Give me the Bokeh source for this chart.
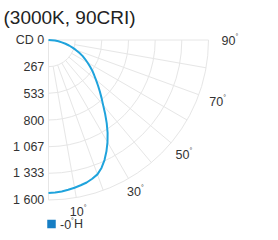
import numpy as np
from bokeh.plotting import figure
from bokeh.models import Range1d
from bokeh.core.properties import value
from bokeh.embed import file_html
from bokeh.resources import INLINE

# ---- data ----
title_text = "(3000K, 90CRI)"
angles_deg = [0, 2.5, 5, 7.5, 10, 12.5, 15, 17.5, 20, 22.5, 25, 27.5, 30, 32.5, 35, 37.5,
              40, 42.5, 45, 47.5, 50, 52.5, 55, 57.5, 60, 62.5, 65, 67.5, 70, 72.5, 75,
              77.5, 80, 82.5, 85, 87.5, 90]
candela = [1530, 1527, 1520, 1510, 1500, 1488, 1475, 1455, 1430, 1385, 1325, 1255, 1180,
           1100, 1015, 930, 850, 785, 725, 670, 620, 575, 535, 492, 450, 412, 375, 333,
           290, 252, 213, 174, 135, 100, 65, 32, 0]
radial_ticks = [0, 267, 533, 800, 1067, 1333, 1600]
radial_labels = ["CD 0", "267", "533", "800", "1 067", "1 333", "1 600"]
grid_angles = [0, 10, 20, 30, 40, 50, 60, 70, 80, 90]
angle_label_values = [10, 30, 50, 70, 90]
series_name = "-0"
series_suffix = "H"

FONT = value("Liberation Sans")
GRID = "#e6e6e6"
TXT = "#333333"
LINE_COLOR = "#1fa3dc"
LEGEND_COLOR = "#167ec4"

p = figure(width=270, height=232, output_backend="svg", toolbar_location=None,
           x_range=Range1d(-480, 2220), y_range=Range1d(-1925, 395),
           x_axis_location=None, y_axis_location=None, min_border=0)
p.grid.visible = False
p.outline_line_color = None
p.background_fill_color = "white"

rmax = radial_ticks[-1]
# arcs
for r in radial_ticks[1:]:
    p.arc(x=0, y=0, radius=r, start_angle=-np.pi / 2, end_angle=0,
          line_color=GRID, line_width=1)
# radial lines
x0s, y0s, x1s, y1s = [], [], [], []
for a in grid_angles:
    t = np.radians(a)
    r0 = 0 if a in (0, 90) else radial_ticks[1]
    x0s.append(r0 * np.sin(t)); y0s.append(-r0 * np.cos(t))
    x1s.append(rmax * np.sin(t)); y1s.append(-rmax * np.cos(t))
p.segment(x0=x0s, y0=y0s, x1=x1s, y1=y1s, line_color=GRID, line_width=1)

# curve
th = np.radians(angles_deg)
cd = np.array(candela, dtype=float)
p.line(x=cd * np.sin(th), y=-cd * np.cos(th), line_color=LINE_COLOR, line_width=2,
       line_join="round")

# radial tick labels
p.text(x=[-42] * len(radial_ticks), y=[-r for r in radial_ticks], text=radial_labels,
       text_align="right", text_baseline="middle", text_font=FONT,
       text_font_size="12.5px", text_color=TXT)

# angle labels
ta = np.radians(angle_label_values)
R = 1740 + 80 * np.sin(ta) ** 3
ax = R * np.sin(ta)
ay = -R * np.cos(ta)
p.text(x=ax, y=ay, text=[str(v) for v in angle_label_values], text_align="center",
       text_baseline="middle", text_font=FONT, text_font_size="12.5px",
       text_color=TXT, x_offset=-2)
p.text(x=ax, y=ay, text=["°"] * len(angle_label_values), text_align="left",
       text_baseline="middle", text_font=FONT, text_font_size="7px",
       text_color=TXT, x_offset=5, y_offset=-4)

# title
p.text(x=[-450], y=[225], text=[title_text], text_align="left",
       text_baseline="alphabetic", text_font=FONT, text_font_size="19px",
       text_color="#222222")

# legend
ly = -1840
p.rect(x=[30], y=[ly], width=85, height=85, fill_color=LEGEND_COLOR, line_color=None)
p.text(x=[115], y=[ly], text=[series_name], text_align="left", text_baseline="middle",
       text_font=FONT, text_font_size="12.5px", text_color=TXT)
p.text(x=[225], y=[ly], text=["°"], text_align="left", text_baseline="middle",
       text_font=FONT, text_font_size="7px", text_color=TXT, y_offset=-4)
p.text(x=[255], y=[ly], text=[series_suffix], text_align="left", text_baseline="middle",
       text_font=FONT, text_font_size="12.5px", text_color=TXT)

open("out.html", "w").write(file_html(p, INLINE))
